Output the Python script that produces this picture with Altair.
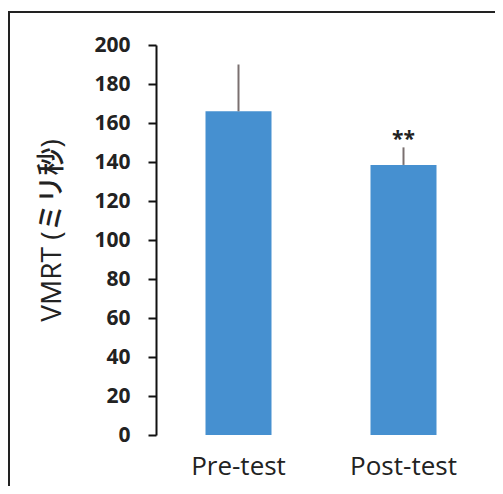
import altair as alt
import pandas as pd

categories = ["Pre-test", "Post-test"]
means = [166, 138.5]
errors = [24, 9]
marks = ["", "**"]
y_ticks = [0, 20, 40, 60, 80, 100, 120, 140, 160, 180, 200]

df = pd.DataFrame({
    "cat": categories,
    "mean": means,
    "top": [m + e for m, e in zip(means, errors)],
    "mark": marks,
})

FONT = "Open Sans, Noto Sans CJK JP"
TITLE = "VMRT (ミリ秒)"

x_axis = alt.Axis(domain=False, ticks=False, labelAngle=0, labelFontSize=26,
                  labelFont=FONT, labelColor="#222", labelPadding=18)
y_axis = alt.Axis(values=y_ticks, grid=False, labelOverlap=False,
                  domainColor="#111", domainWidth=2, tickColor="#111", tickWidth=2,
                  tickSize=8, labelFontSize=21, labelFont=FONT, labelFontWeight="bold",
                  labelColor="#222", labelPadding=18,
                  titleFont=FONT, titleFontSize=28, titleFontWeight=500,
                  titleColor="#222", titleAngle=-90, titleX=-104, titleY=185,
                  titleAlign="center", titleBaseline="middle")
x_scale = alt.Scale(paddingInner=0.6)
y_scale = alt.Scale(domain=[0, 200])

def X():
    return alt.X("cat:N", sort=categories, title=None, scale=x_scale, axis=x_axis)

base = alt.Chart(df)
bars = base.mark_bar(color="#4690d0").encode(
    x=X(), y=alt.Y("mean:Q", title=TITLE, scale=y_scale, axis=y_axis))
err = base.mark_rule(color="#7a7070", strokeWidth=2).encode(
    x=X(), y=alt.Y("mean:Q", title=TITLE, scale=y_scale, axis=y_axis), y2="top:Q")
stars = base.mark_text(fontSize=21, fontWeight="bold", font=FONT, color="#222",
                       baseline="middle", dy=-7).encode(
    x=X(), y=alt.Y("top:Q", title=TITLE, scale=y_scale, axis=y_axis), text="mark:N")

frame_left = alt.Chart(df).mark_rule(color="#222", strokeWidth=2).encode(
    x=alt.value(-147), y=alt.value(-33), y2=alt.value(460))
frame_top = alt.Chart(df).mark_rule(color="#222", strokeWidth=2).encode(
    x=alt.value(-148), x2=alt.value(345), y=alt.value(-33))

chart = alt.layer(bars, err, stars, frame_left, frame_top).properties(
    width=330, height=390,
    autosize=alt.AutoSizeParams(type="none"),
    padding={"left": 148, "top": 37, "right": 9, "bottom": 51},
    background="white",
).configure_view(stroke=None).configure_axisY(labelOverlap=False)

chart.save("out.html", embed_options={"renderer": "svg", "actions": False})
